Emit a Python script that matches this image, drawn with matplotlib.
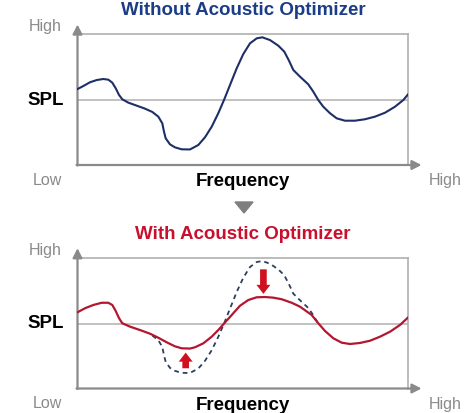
import numpy as np
import matplotlib
matplotlib.use("Agg")
from matplotlib import pyplot as plt
from matplotlib.patches import Polygon

plt.rcParams['font.family'] = ['Liberation Sans', 'DejaVu Sans']

# frequency (0-100, low->high) and SPL (0-100, low->high)
freq_before = [0, 1.75, 3.78, 5.80, 7.80, 9.31, 10.52, 11.55, 12.55, 13.54, 15.36, 17.90, 20.41,
               22.61, 24.43, 25.63, 26.15, 26.66, 27.96, 29.47, 31.50, 34.01, 36.52, 38.54,
               40.57, 42.56, 44.38, 46.10, 48.13, 50.12, 52.15, 54.17, 55.86, 58.19, 60.70,
               62.52, 63.94, 65.24, 67.26, 69.77, 71.28, 72.79, 74.30, 76.33, 78.36, 80.86,
               83.89, 86.91, 89.93, 92.96, 95.98, 98.49, 100]
spl_before = [58.1, 60.4, 63.3, 65.0, 65.8, 65.3, 63.0, 58.7, 53.6, 50.3, 47.7, 45.4, 43.1,
              40.6, 37.0, 31.9, 25.5, 20.4, 15.8, 13.5, 12.0, 11.9, 15.3, 21.2,
              29.3, 39.6, 50.3, 61.2, 74.0, 84.9, 93.1, 96.9, 97.7, 95.6, 91.3,
              86.7, 79.8, 72.7, 67.6, 61.7, 56.1, 49.7, 44.6, 39.6, 35.7, 33.9,
              33.9, 35.0, 37.0, 40.0, 44.6, 49.7, 54.3]

freq_after = [0, 2.27, 4.78, 7.32, 9.31, 10.52, 11.55, 12.55, 13.54, 15.87, 18.89, 21.92,
              24.43, 26.97, 29.47, 31.50, 34.01, 35.52, 38.03, 40.57, 42.56, 44.38, 46.61,
              49.12, 51.63, 54.17, 56.68, 59.19, 61.73, 64.75, 67.26, 70.80, 72.79, 74.82,
              77.33, 79.87, 82.38, 85.40, 88.42, 91.44, 94.47, 97.49, 100]
spl_after = [58.4, 61.5, 64.0, 65.7, 65.7, 64.0, 59.4, 53.9, 50.0, 47.4, 44.8, 42.0,
             38.9, 35.4, 32.3, 30.8, 30.6, 31.6, 34.6, 39.7, 44.8, 50.0, 56.3,
             63.4, 67.8, 69.9, 70.1, 69.6, 68.4, 65.7, 62.7, 56.3, 50.0, 44.1,
             38.5, 35.1, 34.1, 34.9, 36.6, 39.7, 43.5, 48.7, 54.6]

# the dashed "before" curve is only shown where it departs from the new one
dashed_range = (22.5, 73.0)

# correction arrows: (freq, spl tail, spl tip)
arrow_up = (32.7, 15.5, 27.5)
arrow_down = (56.2, 91.3, 72.5)

mid_level = 49.8

BLUE = '#1b3c86'
NAVY = '#1d2f66'
RED = '#c8102e'
CRIMSON = '#b3172f'
GREY = '#8a8a8a'
LIGHT = '#b0b0b0'

W, H = 477, 413
fig = plt.figure(figsize=(W / 100, H / 100), dpi=100)

def px(x, y):
    return x / W, 1 - y / H

def setup(ax, title, tcolor, top):
    ax.set_xlim(0, 100)
    ax.set_ylim(0, 100)
    ax.set_xticks([])
    ax.set_yticks([])
    for s in ['top', 'right']:
        ax.spines[s].set_color(LIGHT)
        ax.spines[s].set_linewidth(1.2)
    for s in ['left', 'bottom']:
        ax.spines[s].set_visible(False)
    ax.axhline(mid_level, color=LIGHT, lw=1.1, zorder=1)
    # axes with arrow heads
    ax.annotate('', xy=(0, 1.075), xytext=(0, -0.004), xycoords='axes fraction',
                arrowprops=dict(arrowstyle='-|>,head_length=0.55,head_width=0.28',
                                color=GREY, lw=1.6, shrinkA=0, shrinkB=0), annotation_clip=False)
    ax.annotate('', xy=(1.04, 0), xytext=(-0.003, 0), xycoords='axes fraction',
                arrowprops=dict(arrowstyle='-|>,head_length=0.55,head_width=0.28',
                                color=GREY, lw=1.6, shrinkA=0, shrinkB=0), annotation_clip=False)
    fig.text(*px(243, top - 23.5), title, color=tcolor, fontsize=13.5, fontweight='bold',
             ha='center', va='center')
    fig.text(*px(62, top - 7.5), 'High', color=GREY, fontsize=11.5, ha='right', va='center')
    fig.text(*px(46, top + 66), 'SPL', color='black', fontsize=13.5, fontweight='bold',
             ha='center', va='center')
    fig.text(*px(62, top + 146), 'Low', color=GREY, fontsize=11.5, ha='right', va='center')
    fig.text(*px(242.5, top + 147.5), 'Frequency', color='black', fontsize=13.5,
             fontweight='bold', ha='center', va='center')
    fig.text(*px(445, top + 146), 'High', color=GREY, fontsize=11.5, ha='center', va='center')

# top panel
ax1 = fig.add_axes([77.5 / W, 1 - 165 / H, 330.8 / W, 130.7 / H])
setup(ax1, 'Without Acoustic Optimizer', BLUE, 34.3)
ax1.plot(freq_before, spl_before, color=NAVY, lw=1.5, solid_joinstyle='round',
         solid_capstyle='round', zorder=3)

# triangle between panels
tri = Polygon([px(235, 202), px(253, 202), px(244, 213)], closed=True,
              transform=fig.transFigure, color='#7f7f7f')
fig.patches.append(tri)

# bottom panel
ax2 = fig.add_axes([77.5 / W, 1 - 388.5 / H, 330.8 / W, 130.5 / H])
setup(ax2, 'With Acoustic Optimizer', RED, 258)
fb = np.array(freq_before)
sb = np.array(spl_before)
m = (fb >= dashed_range[0]) & (fb <= dashed_range[1])
ax2.plot(fb[m], sb[m], color='#2b405e', lw=1.3, linestyle=(0, (2.6, 2.2)), zorder=2)
ax2.plot(freq_after, spl_after, color=CRIMSON, lw=1.6, solid_joinstyle='round',
         solid_capstyle='round', zorder=3)
for fx, y0, y1 in (arrow_up, arrow_down):
    ax2.annotate('', xy=(fx, y1), xytext=(fx, y0),
                 arrowprops=dict(arrowstyle='simple,head_length=0.65,head_width=1.0,tail_width=0.48',
                                 fc='#d0101e', ec='none', shrinkA=0, shrinkB=0,
                                 mutation_scale=10), zorder=4)

fig.savefig('out.png', dpi=100)
